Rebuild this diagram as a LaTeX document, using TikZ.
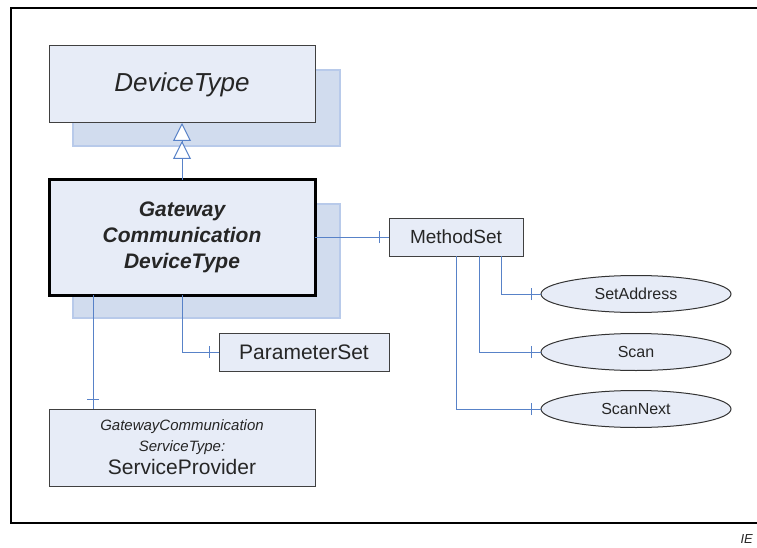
\documentclass[tikz,border=0pt]{standalone}
\usepackage{fontspec}
\setmainfont{Liberation Sans}
\usetikzlibrary{arrows.meta,shapes.geometric,decorations.markings}

\definecolor{gcbox}{RGB}{231,236,247}
\definecolor{gcshade}{RGB}{209,220,238}
\definecolor{gcshadeline}{RGB}{184,202,234}
\definecolor{gcline}{RGB}{88,130,200}
\definecolor{gctext}{RGB}{38,38,38}

\begin{document}
\begin{tikzpicture}[
  x=1pt, y=-1pt,
  gcclass/.style = {draw=black!75, line width=1pt, fill=gcbox, text=gctext,
                    inner sep=0pt, outer sep=0pt, align=center},
  gcshadow/.style = {draw=gcshadeline, line width=2pt, fill=gcshade},
  gcmethod/.style = {ellipse, draw=black!80, line width=1pt, fill=gcbox, text=gctext,
                     minimum width=190pt, minimum height=37pt, inner sep=0pt, outer sep=0pt,
                     font=\fontsize{16}{19}\selectfont},
  gcconn/.style = {draw=gcline, line width=1pt},
  gcbar/.style = {postaction={decorate, decoration={markings,
                  mark=at position -10pt with {\draw[gcline, line width=1pt] (0,-6pt) -- (0,6pt);}}}},
  gcinherit/.style = {-{Triangle[open, fill=white, length=18pt, width=18pt, line width=1pt]
                         Triangle[open, fill=white, length=18pt, width=18pt, line width=1pt]}}
]
  \useasboundingbox (0,0) rectangle (757,548);
  % frame
  \draw[line width=1.3pt] (757,8) -- (11,8) -- (11,523) -- (757,523);
  \node[anchor=base west, font=\itshape\fontsize{13}{15}\selectfont, text=gctext] (iec) at (737,543) {IE};

  % shadows
  \draw[gcshadow] (73,70) rectangle (340,146);
  \draw[gcshadow] (73,204) rectangle (340,318);

  % classes
  \node[gcclass, minimum width=266pt, minimum height=77pt,
        font=\itshape\fontsize{26}{31}\selectfont] (dev) at (182,84.5) {DeviceType};
  \node[gcclass, draw=black, line width=3pt, minimum width=266pt, minimum height=115pt,
        font=\bfseries\itshape\fontsize{21}{26}\selectfont] (gw) at (182,237.5)
        {Gateway\\Communication\\DeviceType};
  \node[gcclass, minimum width=134pt, minimum height=38pt,
        font=\fontsize{19}{23}\selectfont] (ms) at (456,237) {MethodSet};
  \node[gcclass, minimum width=170pt, minimum height=38pt,
        font=\fontsize{21}{25}\selectfont] (ps) at (304,352) {ParameterSet};
  \node[gcclass, minimum width=266pt, minimum height=77pt,
        font=\fontsize{15}{21}\selectfont] (sp) at (182,447.5)
        {\textit{GatewayCommunication}\\
         \textit{ServiceType:}\\[2pt]
         {\fontsize{21}{21}\selectfont ServiceProvider}};

  % methods
  \node[gcmethod] (sa) at (636,294) {SetAddress};
  \node[gcmethod] (sc) at (636,352) {Scan};
  \node[gcmethod] (sn) at (636,409) {ScanNext};

  % connectors
  \draw[gcconn, gcinherit] (gw.north) -- (dev.south);
  \draw[gcconn, gcbar] (ms.west -| gw.east) -- (ms.west);
  \draw[gcconn, gcbar] (gw.south) |- (ps.west);
  \draw[gcconn, gcbar] ([xshift=44pt]gw.south west) -- ([xshift=44pt]sp.north west);
  \draw[gcconn, gcbar] ([xshift=45pt]ms.south) |- (sa.west);
  \draw[gcconn, gcbar] ([xshift=23pt]ms.south) |- (sc.west);
  \draw[gcconn, gcbar] (ms.south) |- (sn.west);
\end{tikzpicture}
\end{document}
